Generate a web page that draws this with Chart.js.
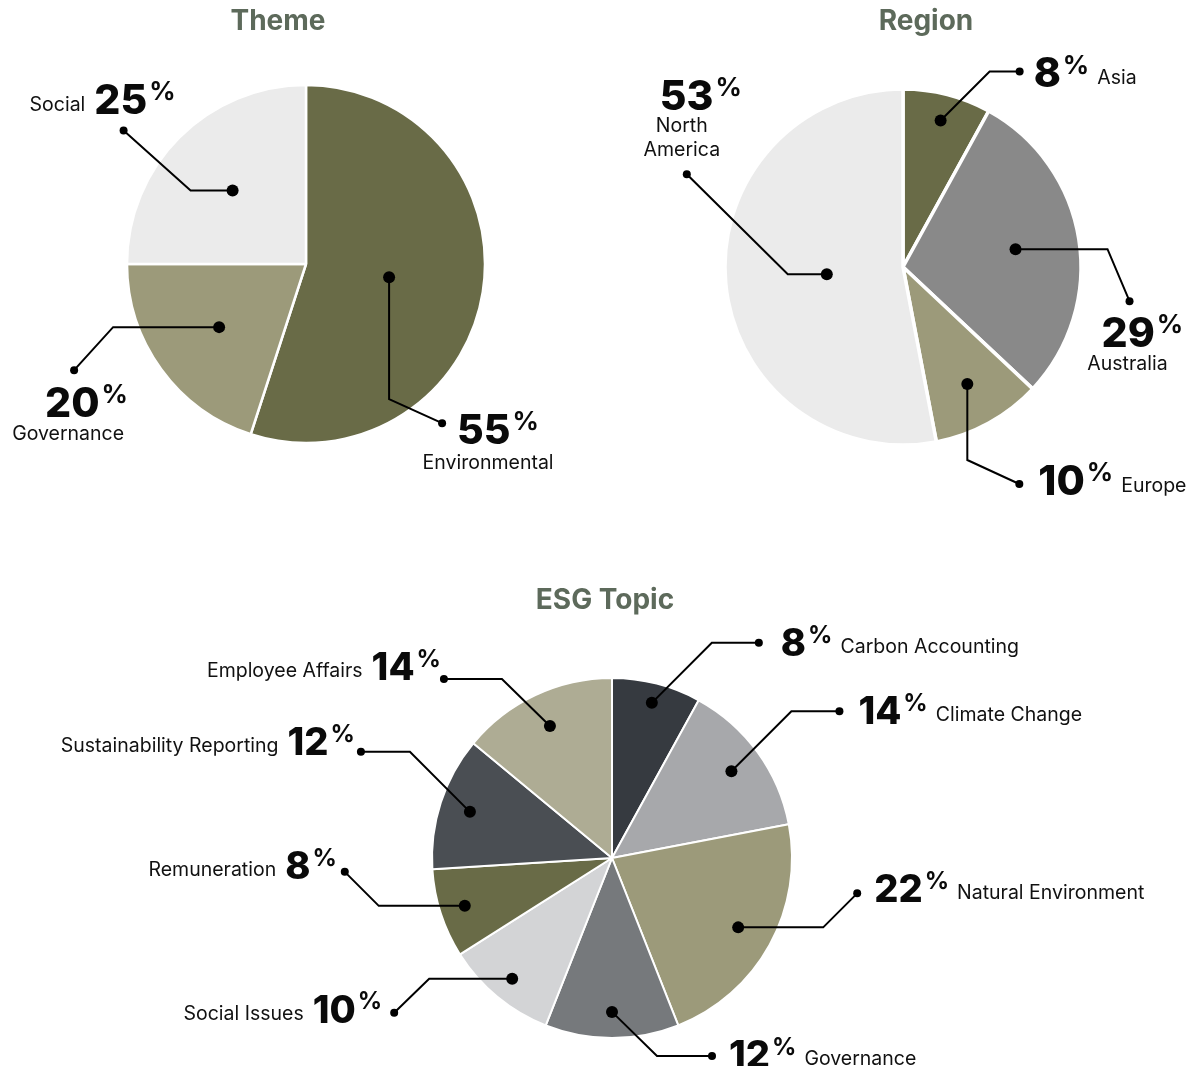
<!DOCTYPE html>
<html>
<head>
<meta charset="utf-8">
<script src="https://cdn.jsdelivr.net/npm/chart.js@4.4.1/dist/chart.umd.min.js"></script>
<style>
  body { margin: 0; background: #fff; }
  #page { position: relative; width: 1190px; height: 1066px; }
  canvas { position: absolute; }
</style>
</head>
<body>
<div id="page">
  <canvas id="theme" width="595" height="520" style="left:0;top:0"></canvas>
  <canvas id="region" width="595" height="520" style="left:595px;top:0"></canvas>
  <canvas id="esg" width="1190" height="521" style="left:0;top:545px"></canvas>
</div>
<script>
// --- data ---
const themeLabels = ["Environmental", "Governance", "Social"];
const themeValues = [55, 20, 25];

const regionLabels = ["Asia", "Australia", "Europe", "North America"];
const regionValues = [8, 29, 10, 53];

const esgLabels = ["Carbon Accounting", "Climate Change", "Natural Environment", "Governance",
  "Social Issues", "Remuneration", "Sustainability Reporting", "Employee Affairs"];
const esgValues = [8, 14, 22, 12, 10, 8, 12, 14];

// --- colours ---
const themeColors = ["#696b47", "#9c9a7a", "#ebebeb"];
const regionColors = ["#696b47", "#898989", "#9c9a7a", "#ebebeb"];
const esgColors = ["#363a40", "#a7a8ab", "#9c9a7a", "#76797c", "#d3d4d6", "#696b47", "#4a4e53", "#aeac94"];

// leader layout: frac = dot position along radius, elbow/end relative to the dot,
// num = [x, baseline, align] relative to end dot, name = 'after' | 'before' | [cx, baseline]
const themeLayout = [
  { frac: 0.47, elbow: [0, 122], end: [53, 146], num: [15, 21, "left"], name: [46, 46] },
  { frac: 0.60, elbow: [-106, 0], end: [-145, 43], num: [-29, 47, "left"], name: [-6, 70] },
  { frac: 0.58, elbow: [-42, 0], end: [-109, -60], num: [52, -17, "right"], name: "before" }
];
const regionLayout = [
  { frac: 0.85, elbow: [49, -49], end: [79, -49], num: [14, 16, "left"], name: "after" },
  { frac: 0.64, elbow: [92, 0], end: [114, 52], num: [-28, 46, "left"], name: [-2, 69] },
  { frac: 0.75, elbow: [0, 76], end: [52, 100], num: [19, 11, "left"], name: "after" },
  { frac: 0.43, elbow: [-39, 0], end: [-140, -100], num: [-27, -64, "left"], name: [-5, -42], lines: ["North", "America"] }
];
const esgLayout = [
  { frac: 0.89, elbow: [60, -60], end: [107, -60], num: [22, 13, "left"], name: "after" },
  { frac: 0.82, elbow: [60, -60], end: [108, -60], num: [19, 13, "left"], name: "after" },
  { frac: 0.80, elbow: [85, 0], end: [119, -34], num: [17, 9, "left"], name: "after" },
  { frac: 0.855, elbow: [45, 44], end: [100, 44], num: [17, 12, "left"], name: "after" },
  { frac: 0.87, elbow: [-83, 0], end: [-118, 34], num: [-12, 10, "right"], name: "before" },
  { frac: 0.86, elbow: [-86, 0], end: [-120, -34], num: [-8, 7, "right"], name: "before" },
  { frac: 0.83, elbow: [-60, -60], end: [-109, -60], num: [-6, 3, "right"], name: "before" },
  { frac: 0.81, elbow: [-48, -47], end: [-106, -47], num: [-3, 1, "right"], name: "before" }
];

const leaderPlugin = {
  id: "leaders",
  afterDatasetsDraw(chart, args, opts) {
    const ctx = chart.ctx;
    const meta = chart.getDatasetMeta(0);
    const labels = chart.data.labels;
    const values = chart.data.datasets[0].data;
    ctx.save();

    // title
    ctx.font = "700 28px Inter";
    ctx.fillStyle = "#5d6a5b";
    ctx.textAlign = "center";
    ctx.textBaseline = "middle";
    ctx.fillText(opts.title, opts.titleX, opts.titleY);

    meta.data.forEach((arc, i) => {
      const p = arc.getProps(["x", "y", "startAngle", "endAngle", "outerRadius"], true);
      const L = opts.layout[i];
      const mid = (p.startAngle + p.endAngle) / 2;
      const dx = p.x + Math.cos(mid) * p.outerRadius * L.frac;
      const dy = p.y + Math.sin(mid) * p.outerRadius * L.frac;
      const ex = dx + L.end[0], ey = dy + L.end[1];

      // leader line
      ctx.strokeStyle = "#000";
      ctx.lineWidth = 2;
      ctx.beginPath();
      ctx.moveTo(dx, dy);
      ctx.lineTo(dx + L.elbow[0], dy + L.elbow[1]);
      ctx.lineTo(ex, ey);
      ctx.stroke();
      ctx.fillStyle = "#000";
      ctx.beginPath(); ctx.arc(dx, dy, 6, 0, Math.PI * 2); ctx.fill();
      ctx.beginPath(); ctx.arc(ex, ey, 4, 0, Math.PI * 2); ctx.fill();

      // number + %
      const numFont = "800 " + opts.numSize + "px Inter";
      const pctFont = "700 " + opts.pctSize + "px Inter";
      const txt = String(values[i]);
      ctx.textBaseline = "alphabetic";
      ctx.textAlign = "left";
      ctx.font = numFont;
      const wNum = ctx.measureText(txt).width;
      ctx.font = pctFont;
      const wPct = ctx.measureText("%").width;
      const gap = 2;
      const nx0 = ex + L.num[0], ny = ey + L.num[1];
      const left = L.num[2] === "left" ? nx0 : nx0 - wNum - gap - wPct;
      const right = left + wNum + gap + wPct;
      ctx.font = numFont;
      ctx.fillStyle = "#0a0a0a";
      ctx.fillText(txt, left, ny);
      ctx.font = pctFont;
      ctx.fillText("%", left + wNum + gap, ny - 0.727 * opts.numSize + 0.727 * opts.pctSize - 3);

      // name
      ctx.font = "400 19.5px Inter";
      ctx.fillStyle = "#111";
      if (L.name === "after") {
        ctx.textAlign = "left";
        ctx.fillText(labels[i], right + 8, ny - 3);
      } else if (L.name === "before") {
        ctx.textAlign = "right";
        ctx.fillText(labels[i], left - 9, ny - 3);
      } else {
        ctx.textAlign = "center";
        const lines = L.lines || [labels[i]];
        lines.forEach((ln, k) => ctx.fillText(ln, ex + L.name[0], ey + L.name[1] + k * 24));
      }
    });
    ctx.restore();
  }
};

function makePie(id, labels, values, colors, border, radius, padding, opts) {
  return new Chart(document.getElementById(id), {
    type: "pie",
    data: {
      labels: labels,
      datasets: [{
        data: values,
        backgroundColor: colors,
        borderColor: "#ffffff",
        borderWidth: border,
        hoverOffset: 0,
        radius: radius
      }]
    },
    options: {
      responsive: false,
      animation: false,
      events: [],
      layout: { padding: padding },
      plugins: {
        legend: { display: false },
        tooltip: { enabled: false },
        leaders: opts
      }
    },
    plugins: [leaderPlugin]
  });
}

makePie("theme", themeLabels, themeValues, themeColors, 2.5, 179,
  { left: 126, right: 109, top: 84, bottom: 76 },
  { title: "Theme", titleX: 278, titleY: 22, layout: themeLayout, numSize: 41, pctSize: 26 });

makePie("region", regionLabels, regionValues, regionColors, 3.5, 178,
  { left: 128, right: 107, top: 87, bottom: 73 },
  { title: "Region", titleX: 926 - 595, titleY: 22, layout: regionLayout, numSize: 41, pctSize: 26 });

makePie("esg", esgLabels, esgValues, esgColors, 2, 180,
  { left: 432, right: 398, top: 133, bottom: 28 },
  { title: "ESG Topic", titleX: 605, titleY: 56, layout: esgLayout, numSize: 38, pctSize: 24 });
</script>
</body>
</html>
